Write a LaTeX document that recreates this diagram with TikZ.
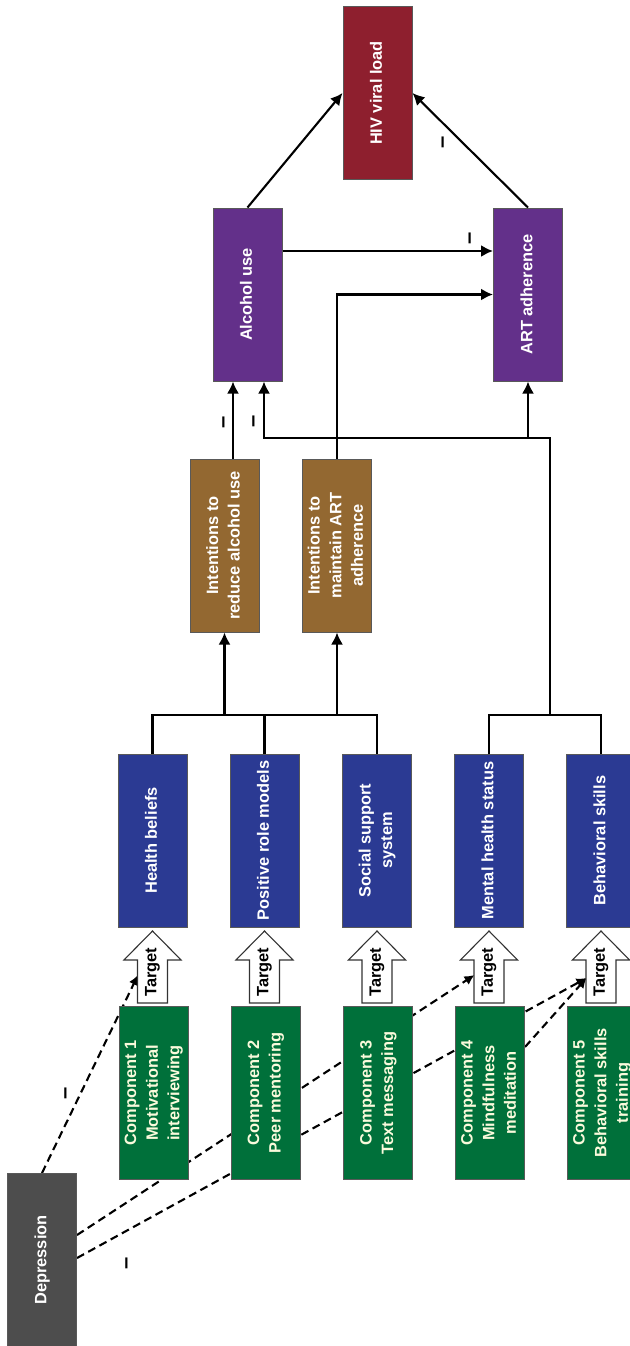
\documentclass[tikz,border=0pt]{standalone}
\usepackage{fontspec}
\setmainfont{Liberation Sans}
\usetikzlibrary{arrows.meta,calc,backgrounds}
\definecolor{cdep}{RGB}{77,77,77}
\definecolor{cgreen}{RGB}{0,112,58}
\definecolor{cblue}{RGB}{43,58,147}
\definecolor{cbrown}{RGB}{147,104,49}
\definecolor{cpurple}{RGB}{99,48,138}
\definecolor{cred}{RGB}{142,31,46}
\definecolor{gtxt}{RGB}{250,250,220}
\newcommand{\rtxt}[1]{\rotatebox{90}{\begin{tabular}{@{}c@{}}#1\end{tabular}}}
\tikzset{
  box/.style={draw=black!65, line width=0.5pt, minimum width=34.5pt, minimum height=86.5pt,
    inner sep=0pt, text=white, font=\bfseries\fontsize{8.2}{10.8}\selectfont},
  conn/.style={draw=black, line width=1.05pt},
  arr/.style={conn, -{Latex[length=6pt,width=6pt]}},
  darr/.style={draw=black, line width=1.05pt, dash pattern=on 4pt off 2.4pt, -{Latex[length=5pt,width=5pt]}},
  tarrow/.style={draw=black!80, line width=0.55pt, fill=white},
  tgt/.style={inner sep=0pt, font=\bfseries\fontsize{8.2}{9}\selectfont},
  minus/.style={inner sep=0pt, font=\bfseries\fontsize{11}{12}\selectfont}
}
\begin{document}
\begin{tikzpicture}[x=0.5pt,y=-0.5pt]
\useasboundingbox (0,0) rectangle (630,1346);
\clip (0,0) rectangle (630,1346);

% boxes
\node[box,fill=cred] (hiv) at (377.5,93) {\rtxt{HIV viral load}};
\node[box,fill=cpurple] (alc) at (247.5,294.5) {\rtxt{Alcohol use}};
\node[box,fill=cpurple] (art) at (528,294.5) {\rtxt{ART adherence}};
\node[box,fill=cbrown] (int1) at (224.5,545.5) {\rtxt{Intentions to\\reduce alcohol use}};
\node[box,fill=cbrown] (int2) at (337,545.5) {\rtxt{Intentions to\\maintain ART\\adherence}};
\node[box,fill=cblue] (hb) at (152.5,840.5) {\rtxt{Health beliefs}};
\node[box,fill=cblue] (pr) at (264.5,840.5) {\rtxt{Positive role models}};
\node[box,fill=cblue] (ss) at (377,840.5) {\rtxt{Social support\\system}};
\node[box,fill=cblue] (mh) at (489,840.5) {\rtxt{Mental health status}};
\node[box,fill=cblue] (bs) at (601,840.5) {\rtxt{Behavioral skills}};
\node[box,fill=cgreen,text=gtxt] (c1) at (153.5,1093) {\rtxt{Component 1\\Motivational\\interviewing}};
\node[box,fill=cgreen,text=gtxt] (c2) at (265.5,1093) {\rtxt{Component 2\\Peer mentoring}};
\node[box,fill=cgreen,text=gtxt] (c3) at (378,1093) {\rtxt{Component 3\\Text messaging}};
\node[box,fill=cgreen,text=gtxt] (c4) at (490,1093) {\rtxt{Component 4\\Mindfulness\\meditation}};
\node[box,fill=cgreen,text=gtxt] (c5) at (602,1093) {\rtxt{Component 5\\Behavioral skills\\training}};
\node[box,fill=cdep] (dep) at (42,1260) {\rtxt{Depression}};

% target block arrows
\foreach \c [count=\i] in {152.5,264.5,377,489,601}{
  \draw[tarrow] (\c,931) -- ({\c+28.6},960) -- ({\c+15},960) -- ({\c+15},1003)
    -- ({\c-15},1003) -- ({\c-15},960) -- ({\c-28.6},960) -- cycle;
  \node[tgt] (tg\i) at (\c,972) {\rotatebox{90}{Target}};
}
\coordinate (t1) at (138,975);
\coordinate (t4) at (474.5,975);
\coordinate (t5) at (586.5,978);

% dashed links (behind the boxes)
\begin{pgfonlayer}{background}
\fill[white] (0,0) rectangle (630,1346);
\draw[darr] (dep.north) -- (t1);
\draw[darr] ([yshift=12.5pt]dep.east) -- (t4);
\draw[darr] ([yshift=1pt]dep.east) -- (t5);
\draw[darr] ([yshift=23pt]c4.east) -- (t5);
\end{pgfonlayer}

% bracket 1
\coordinate (jy) at (0,715);
\draw[conn] (hb.north) -- (hb.north |- jy) -| (ss.north);
\draw[conn] (pr.north) -- (pr.north |- jy);
\draw[arr] (int1.south |- jy) -- (int1.south);
\draw[arr] (int2.south |- jy) -- (int2.south);

% bracket 2
\draw[conn] (mh.north) -- (mh.north |- jy) -| (bs.north);
\coordinate (k) at (550,715);
\coordinate (ky) at (0,438);
\coordinate (a1) at ([xshift=-7.25pt]alc.south);
\coordinate (a2) at ([xshift=8.25pt]alc.south);
\draw[arr] (k) |- (a2 |- ky) -- (a2);
\draw[arr] (art.south |- ky) -- (art.south);

% intentions to outcomes
\draw[arr] (int1.north -| a1) -- (a1);
\draw[arr] (int2.north) |- (art.west);
\draw[arr] ([yshift=21.75pt]alc.east) -- ([yshift=21.75pt]art.west);
\draw[arr] (alc.north) -- (hiv.west);
\draw[arr] (art.north) -- (hiv.east);

% minus signs
\node[minus] (m1) at (472,238) {\rotatebox{90}{–}};
\node[minus] (m2) at (445,142) {\rotatebox{90}{–}};
\node[minus] (m3) at (226,422) {\rotatebox{90}{–}};
\node[minus] (m4) at (256,421) {\rotatebox{90}{–}};
\node[minus] (m5) at (68,1093) {\rotatebox{90}{–}};
\node[minus] (m6) at (129,1263) {\rotatebox{90}{–}};
\end{tikzpicture}
\end{document}
